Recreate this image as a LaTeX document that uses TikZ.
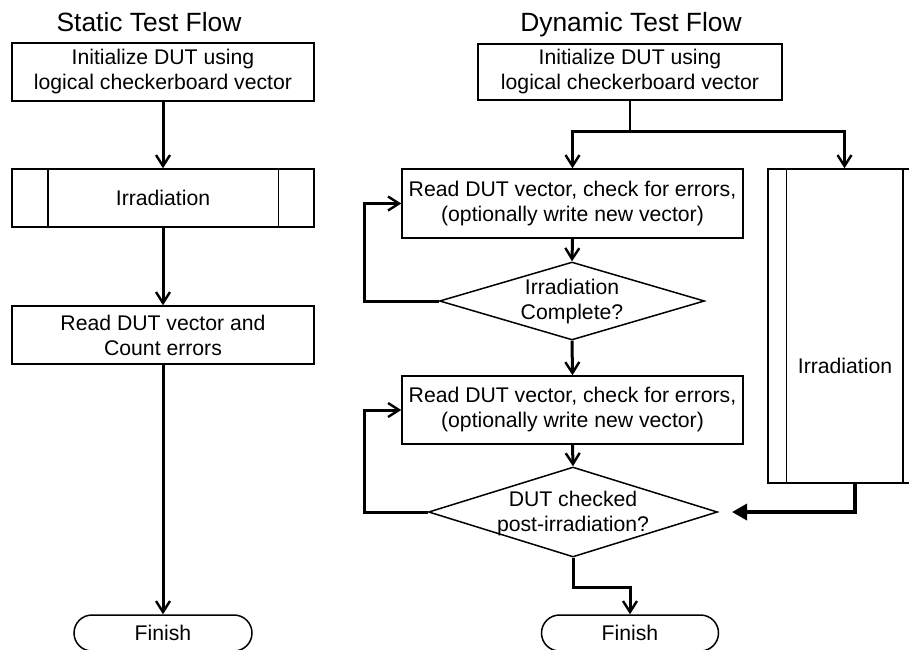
\documentclass[tikz,border=0pt]{standalone}
\usepackage{fontspec}
\setmainfont{Liberation Sans}
\usetikzlibrary{arrows.meta,shapes.geometric,shapes.misc,calc}
\newcommand\myBodyFont{\fontsize{21.2}{25}\selectfont}
\newcommand\myTitleFont{\fontsize{26.4}{30}\selectfont}
\begin{document}
\begin{tikzpicture}[x=1pt,y=-1pt,
  box/.style={draw,line width=1.5pt,rectangle,inner sep=0pt,font=\myBodyFont,align=center},
  term/.style={draw,line width=1.5pt,rounded rectangle,inner sep=0pt,minimum height=36pt,font=\myBodyFont},
  dec/.style={draw,line width=1.5pt,diamond,inner sep=0pt},
  lbl/.style={inner sep=0pt,font=\myBodyFont,align=center},
  ttl/.style={inner sep=0pt,font=\myTitleFont,anchor=base},
  conn/.style={line width=3pt,-{Straight Barb[length=11pt,width=14pt,line width=2.4pt]}},
  fatconn/.style={line width=3.4pt,-{Triangle[length=15pt,width=16pt]}},
  thinline/.style={line width=1.7pt}
]
\fill[white] (0,0) rectangle (909,649);
\useasboundingbox (0,0) rectangle (909,649);

% ---------- Static test flow ----------
\node[ttl] (t1) at (149,31) {Static Test Flow};
\node[box,minimum width=302pt,minimum height=58pt] (s1) at (163,72) {Initialize DUT using\\logical checkerboard vector};
\node[box,minimum width=302pt,minimum height=58pt] (s2) at (163,198) {Irradiation};
\draw[line width=1.5pt] ([xshift=36.5pt]s2.north west) -- ([xshift=36.5pt]s2.south west);
\draw[line width=1.5pt] ([xshift=-36.5pt]s2.north east) -- ([xshift=-36.5pt]s2.south east);
\node[box,minimum width=302pt,minimum height=58pt] (s3) at (163,335) {Read DUT vector and\\Count errors};
\node[term,minimum width=178pt] (s4) at (163,633) {Finish};

\draw[conn] (s1.south) -- (s2.north);
\draw[conn] (s2.south) -- (s3.north);
\draw[conn] (s3.south) -- (s4.north);

% ---------- Dynamic test flow ----------
\node[ttl] (t2) at (631,31) {Dynamic Test Flow};
\node[box,minimum width=304pt,minimum height=56pt] (d0) at (630,72) {Initialize DUT using\\logical checkerboard vector};
\node[box,minimum width=341pt,minimum height=69pt] (b1) at (572.5,203.5) {Read DUT vector, check for errors,\\(optionally write new vector)};
\node[dec,minimum width=265pt,minimum height=78pt] (q1) at (572,301) {};
\node[lbl] (q1t) at (572,302) {Irradiation\\Complete?};
\node[box,minimum width=341pt,minimum height=68pt] (b2) at (572.5,410) {Read DUT vector, check for errors,\\(optionally write new vector)};
\node[dec,minimum width=289pt,minimum height=90pt] (q2) at (573,512) {};
\node[lbl] (q2t) at (573,514) {DUT checked\\post-irradiation?};
\node[term,minimum width=177pt] (f2) at (630,633) {Finish};

\node[draw,line width=1.5pt,rectangle,inner sep=0pt,minimum width=153pt,minimum height=314pt] (irr) at (844.5,326) {};
\draw[line width=1.5pt] ([xshift=19pt]irr.north west) -- ([xshift=19pt]irr.south west);
\draw[line width=1.5pt] ([xshift=-19pt]irr.north east) -- ([xshift=-19pt]irr.south east);
\node[lbl] (irrt) at (845,366) {Irradiation};

\coordinate (lx) at (364,0);
\coordinate (tipR) at (732,512);

\draw[thinline] (d0.south) -- ++(0,31) coordinate (split);
\draw[conn] (split) -| (b1.north);
\draw[conn] (split) -| (irr.north);
\draw[conn] (b1.south) -- (q1.north);
\draw[conn] (q1.west) -- (q1.west -| lx) |- (b1.west);
\draw[conn] (q1.south) -- (b2.north);
\draw[conn] (b2.south) -- (q2.north);
\draw[conn] (q2.west) -- (q2.west -| lx) |- (b2.west);
\draw[conn] (q2.south) -- ++(0,30) -| (f2.north);
\draw[fatconn] ([xshift=10.5pt]irr.south) |- (tipR);
\end{tikzpicture}
\end{document}
